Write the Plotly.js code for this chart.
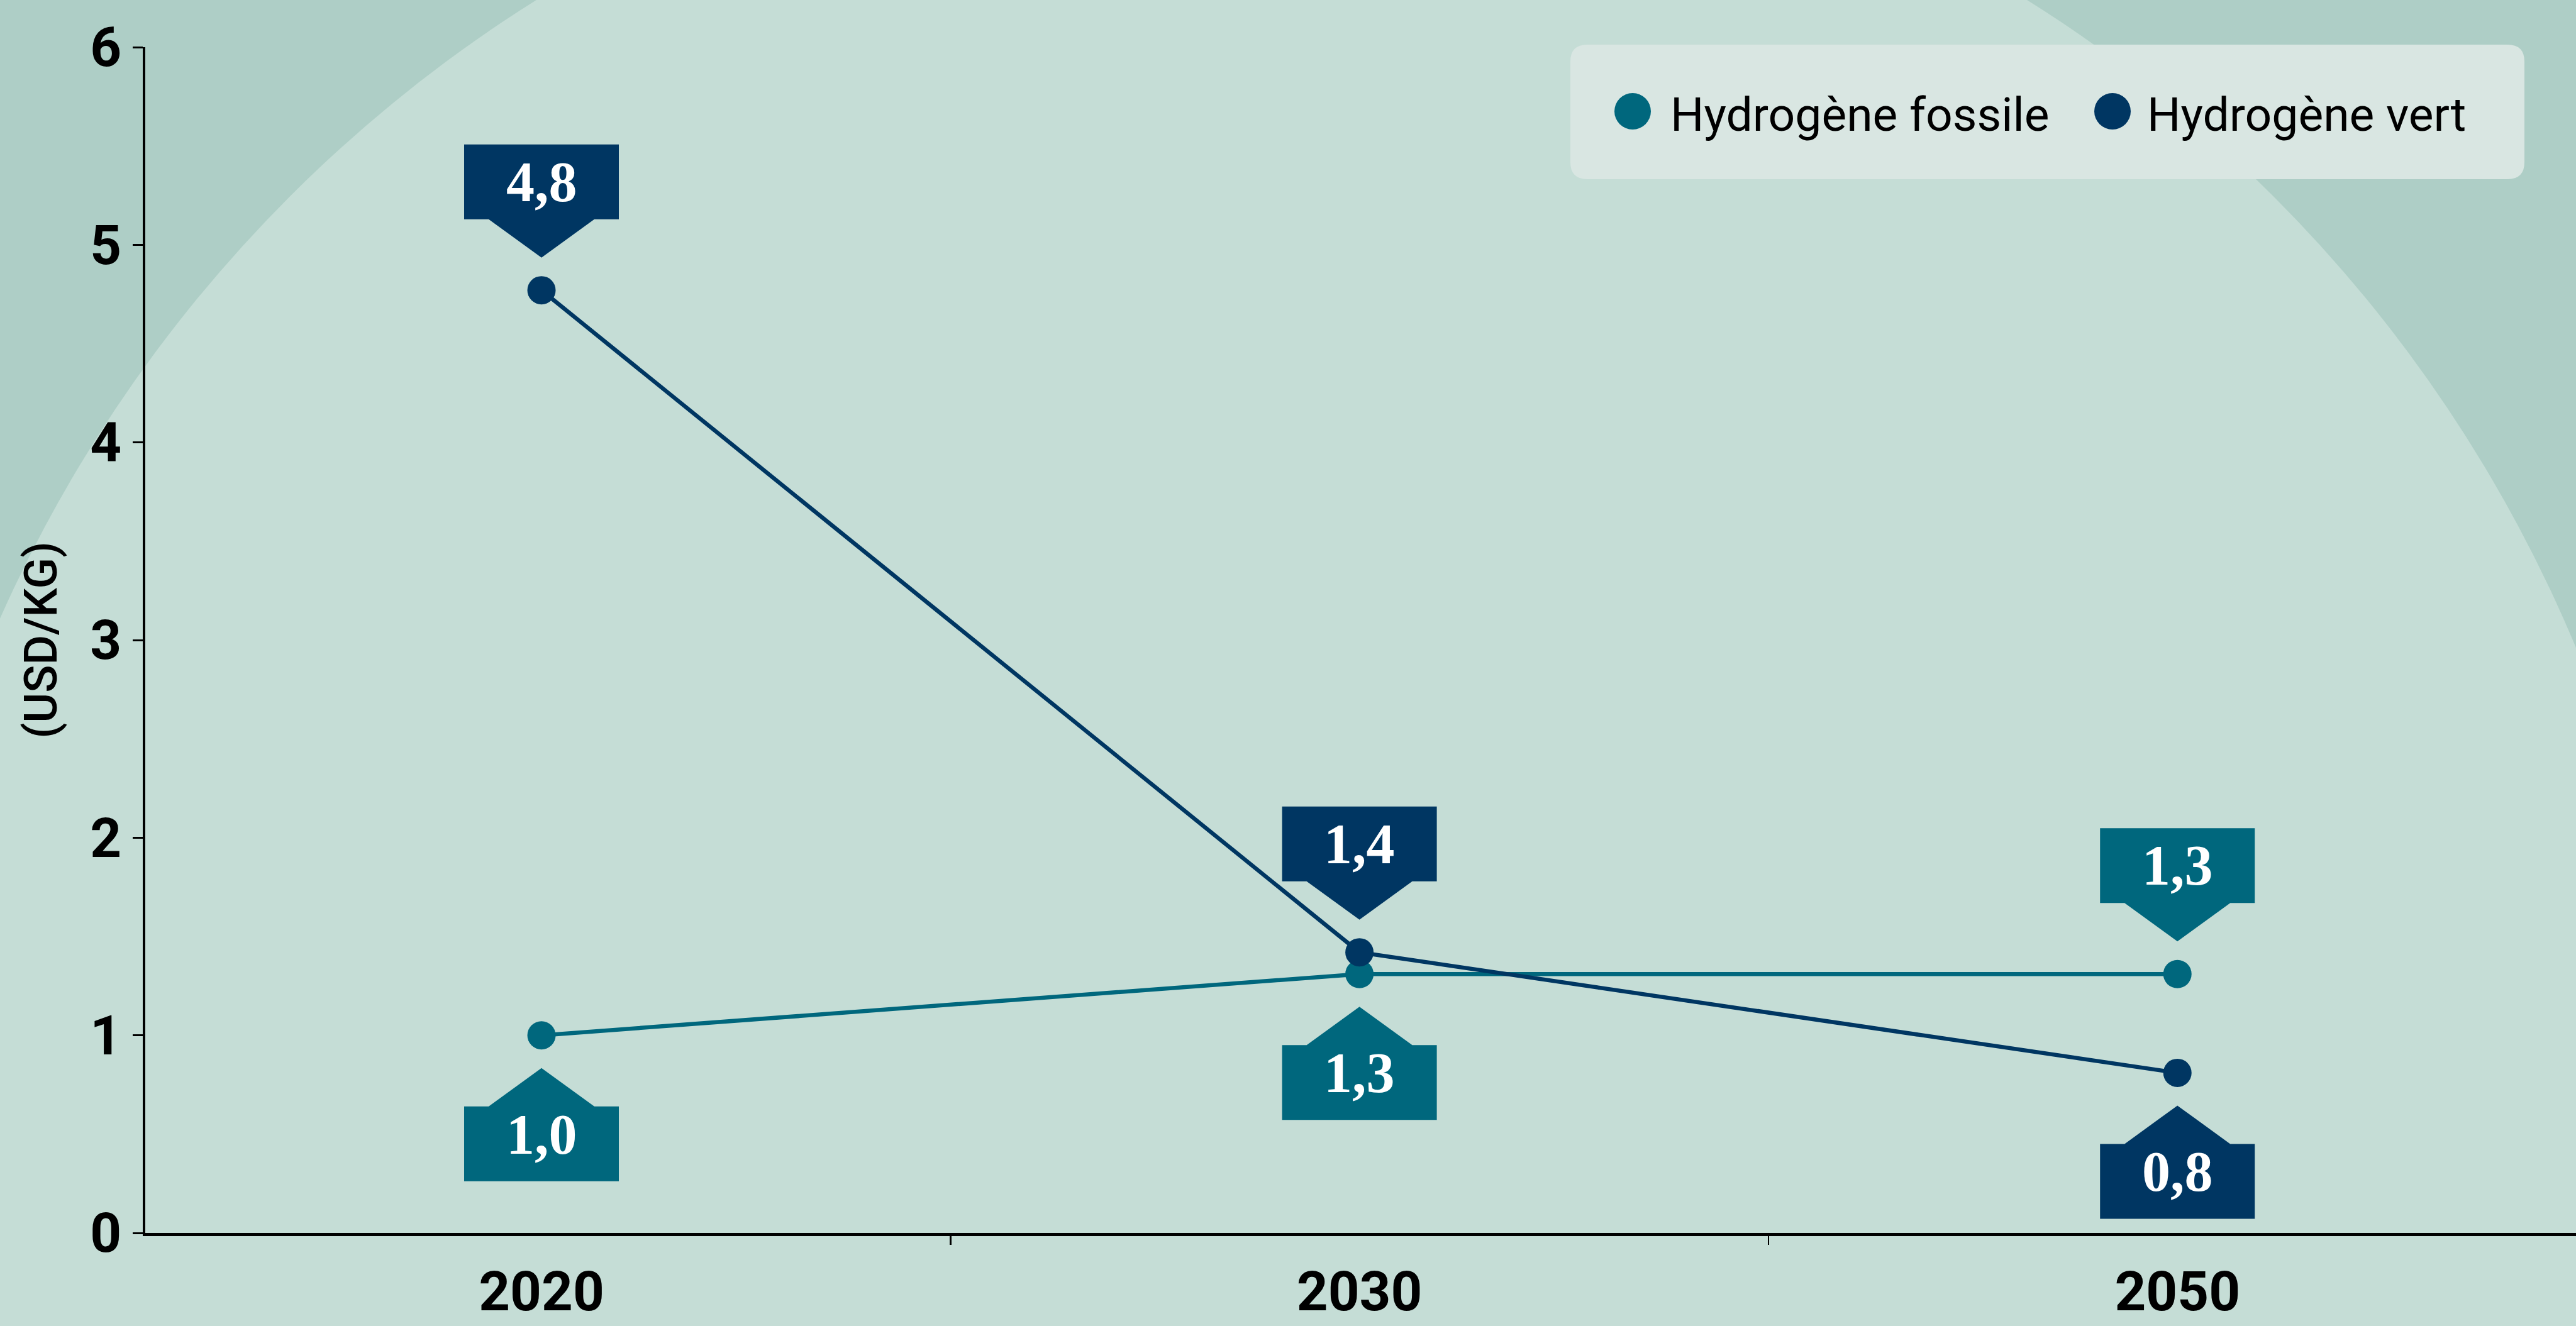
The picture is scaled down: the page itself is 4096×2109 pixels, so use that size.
<!DOCTYPE html>
<html><head><meta charset="utf-8">
<script src="https://cdn.plot.ly/plotly-3.0.1.min.js"></script>
<style>html,body{margin:0;padding:0;background:#aecec6;overflow:hidden}</style>
</head><body><div id="chart" style="width:4096px;height:2109px"></div>
<script>
// ---- data ----
const years = ['2020', '2030', '2050'];
const seriesNames = ['Hydrogène fossile', 'Hydrogène vert'];
const fossil = [1.0, 1.31, 1.31];
const vert = [4.77, 1.42, 0.81];
const fossilLabelSide = ['below', 'below', 'above'];
const vertLabelSide = ['above', 'above', 'below'];
const yTickVals = [0, 1, 2, 3, 4, 5, 6];
const yTitle = '(USD/KG)';

// ---- style ----
const W = 4096, H = 2109;
const M = {l: 231, r: 0, t: 75, b: 148};
const COL_FOSSIL = '#00677d';
const COL_VERT = '#003662';
const BG_DARK = '#aecec6';
const BG_LIGHT = '#c5ddd6';
const LEG_BG = '#d9e6e2';
const SANS = 'Roboto, "Noto Sans", sans-serif';
const SERIF = '"Liberation Serif", "DejaVu Serif", serif';

function fmt(v) { return v.toFixed(1).replace('.', ','); }

const traces = [
  {x: years, y: fossil, name: seriesNames[0], type: 'scatter', mode: 'lines+markers',
   line: {color: COL_FOSSIL, width: 6.5}, marker: {color: COL_FOSSIL, size: 45, line: {width: 0}},
   showlegend: false, hoverinfo: 'skip'},
  {x: years, y: vert, name: seriesNames[1], type: 'scatter', mode: 'lines+markers',
   line: {color: COL_VERT, width: 6.5}, marker: {color: COL_VERT, size: 45, line: {width: 0}},
   showlegend: false, hoverinfo: 'skip'}
];

const shapes = [];
const annotations = [];

// background disc
shapes.push({type: 'circle', layer: 'below', xref: 'paper', yref: 'paper',
  xsizemode: 'pixel', ysizemode: 'pixel', xanchor: 0, yanchor: 1,
  x0: -423, x1: 4037, y0: -4044, y1: 416,
  fillcolor: BG_LIGHT, line: {width: 0}});

// legend box (rounded)
(function () {
  const x0 = 2266, x1 = 3783, y0 = 4, y1 = -210, r = 27;
  const p = `M ${x0 + r} ${y0} L ${x1 - r} ${y0} Q ${x1} ${y0} ${x1} ${y0 - r} L ${x1} ${y1 + r} Q ${x1} ${y1} ${x1 - r} ${y1} L ${x0 + r} ${y1} Q ${x0} ${y1} ${x0} ${y1 + r} L ${x0} ${y0 - r} Q ${x0} ${y0} ${x0 + r} ${y0} Z`;
  shapes.push({type: 'path', layer: 'below', xref: 'paper', yref: 'paper',
    xsizemode: 'pixel', ysizemode: 'pixel', xanchor: 0, yanchor: 1,
    path: p, fillcolor: LEG_BG, line: {width: 0}});
})();

// legend items
const legCircleX = [2365, 3128];
const legTextX = [2423, 3181];
const legY = -102, legTextY = -107;
const plotW = W - M.l - M.r, plotH = H - M.t - M.b;
[COL_FOSSIL, COL_VERT].forEach((c, i) => {
  shapes.push({type: 'circle', xref: 'paper', yref: 'paper', xsizemode: 'pixel', ysizemode: 'pixel',
    xanchor: 0, yanchor: 1, x0: legCircleX[i] - 29, x1: legCircleX[i] + 29, y0: legY - 29, y1: legY + 29,
    fillcolor: c, line: {width: 0}});
  annotations.push({xref: 'paper', yref: 'paper', x: legTextX[i] / plotW, y: 1 + legTextY / plotH,
    xanchor: 'left', yanchor: 'middle', showarrow: false, text: seriesNames[i],
    font: {family: SANS, size: 75, color: '#000'}});
});

// value labels
function addLabel(i, v, side, color) {
  const s = side === 'above' ? 1 : -1;
  const tip = 52, base = 113, top = 232, hw = 123, pw = 84;
  const p = `M ${-hw} ${s * base} L ${-hw} ${s * top} L ${hw} ${s * top} L ${hw} ${s * base} L ${pw} ${s * base} L 0 ${s * tip} L ${-pw} ${s * base} Z`;
  shapes.push({type: 'path', xref: 'x', yref: 'y', xsizemode: 'pixel', ysizemode: 'pixel',
    xanchor: i, yanchor: v, path: p, fillcolor: color, line: {width: 0}});
  annotations.push({xref: 'x', yref: 'y', x: i, y: v, showarrow: false,
    xanchor: 'center', yanchor: 'middle', yshift: side === 'above' ? 172.5 : -157.5,
    text: fmt(v), font: {family: SERIF, size: 90, color: '#ffffff', weight: 'bold'}});
}
fossil.forEach((v, i) => addLabel(i, v, fossilLabelSide[i], COL_FOSSIL));
vert.forEach((v, i) => addLabel(i, v, vertLabelSide[i], COL_VERT));

const layout = {
  width: W, height: H,
  margin: M,
  paper_bgcolor: BG_DARK,
  plot_bgcolor: 'rgba(0,0,0,0)',
  showlegend: false,
  xaxis: {
    type: 'category', categoryorder: 'array', categoryarray: years,
    range: [-0.4844, 2.4873], fixedrange: true,
    showline: true, linecolor: '#000', linewidth: 4.5,
    ticks: 'outside', tickson: 'boundaries', ticklen: 14, tickwidth: 2.5, tickcolor: '#000',
    ticklabelstandoff: 14,
    showgrid: false, zeroline: false,
    tickfont: {family: SANS, size: 87, color: '#000', weight: 'bold'}
  },
  yaxis: {
    range: [0, 6], tickvals: yTickVals, fixedrange: true,
    showline: true, linecolor: '#000', linewidth: 4.5,
    ticks: 'outside', ticklen: 16, tickwidth: 3, tickcolor: '#000',
    showgrid: false, zeroline: false,
    tickfont: {family: SANS, size: 87, color: '#000', weight: 'bold'},
    title: {text: yTitle, standoff: 30, font: {family: SANS, size: 73, color: '#000', weight: 500}}
  },
  shapes: shapes,
  annotations: annotations
};

Plotly.newPlot('chart', traces, layout, {displayModeBar: false, staticPlot: true});
</script>
</body></html>
